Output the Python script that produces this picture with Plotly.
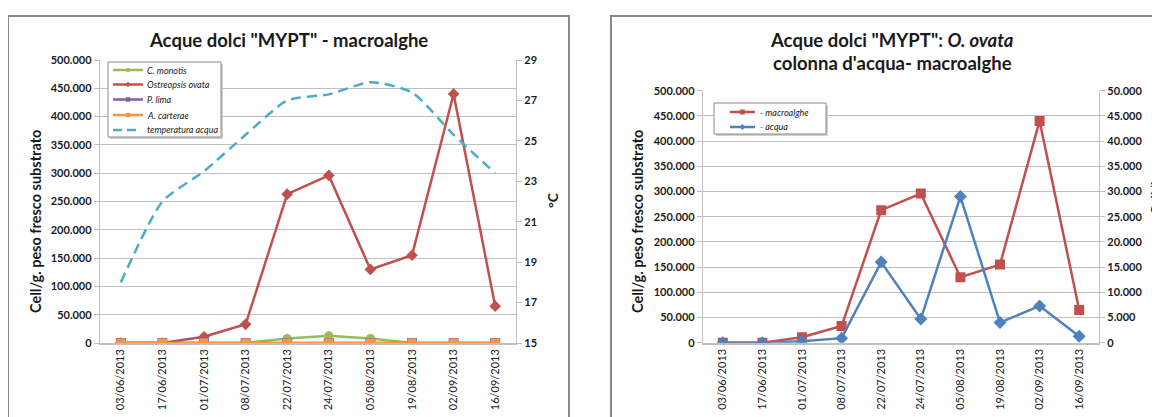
import plotly.graph_objects as go

W, H = 1160, 417
OFF = 8  # page body margin in the browser

# ---------------- data ----------------
dates = ["03/06/2013", "17/06/2013", "01/07/2013", "08/07/2013", "22/07/2013",
         "24/07/2013", "05/08/2013", "19/08/2013", "02/09/2013", "16/09/2013"]
c_monotis = [0, 0, 0, 0, 8000, 13000, 8000, 0, 0, 0]
o_ovata_macro = [0, 0, 11000, 33000, 263000, 296000, 130000, 155000, 440000, 65000]
p_lima = [0, 0, 0, 0, 0, 0, 0, 0, 0, 0]
a_carterae = [0, 0, 0, 0, 0, 0, 0, 0, 0, 0]
temp_acqua = [18.0, 22.0, 23.5, 25.3, 27.0, 27.3, 27.9, 27.4, 25.3, 23.4]
o_ovata_acqua = [0, 0, 300, 900, 16000, 4700, 29000, 4000, 7300, 1300]

left_title = 'Acque dolci "MYPT" - macroalghe'
right_title_1 = 'Acque dolci "MYPT": <i>O. ovata</i>'
right_title_2 = "colonna d'acqua- macroalghe"
y_title = "Cell/g. peso fresco substrato"
temp_title = "°C"
acqua_title = "Cell/l"

left_names = ["C. monotis", "Ostreopsis ovata", "P. lima", "A. carterae", "temperatura acqua"]
right_names = ["- macroalghe", "- acqua"]

RED, BLUE, GREEN, PURPLE, ORANGE, CYAN = "#c0504d", "#4f81bd", "#9bbb59", "#8064a2", "#f79646", "#4bacc6"
FONT = "Lato, 'Open Sans', sans-serif"
GRID = "#c0c0c0"
TXT = "#1a1a1a"

FW, FH = W - OFF, H - OFF


def fx(p):
    return (p - OFF) / FW


def fy(p):
    return 1 - (p - OFF) / FH


fig = go.Figure()

# ---------------- left chart traces ----------------
left_series = [
    (left_names[0], c_monotis, GREEN, "circle", 9),
    (left_names[1], o_ovata_macro, RED, "diamond", 9),
    (left_names[2], p_lima, PURPLE, "square", 10),
    (left_names[3], a_carterae, ORANGE, "square", 9),
]
for name, vals, col, sym, size in left_series:
    fig.add_trace(go.Scatter(x=dates, y=vals, name=name, mode="lines+markers",
                             line=dict(color=col, width=2.5),
                             marker=dict(symbol=sym, size=size, color=col),
                             xaxis="x", yaxis="y", showlegend=False))
fig.add_trace(go.Scatter(x=dates, y=temp_acqua, name=left_names[4], mode="lines",
                         line=dict(color=CYAN, width=2.5, dash="10px,6px", shape="spline", smoothing=0.6),
                         xaxis="x", yaxis="y2", showlegend=False))

# ---------------- right chart traces ----------------
fig.add_trace(go.Scatter(x=dates, y=o_ovata_macro, name=right_names[0], mode="lines+markers",
                         line=dict(color=RED, width=2.5),
                         marker=dict(symbol="square", size=10, color=RED),
                         xaxis="x2", yaxis="y3", showlegend=False))
fig.add_trace(go.Scatter(x=dates, y=o_ovata_acqua, name=right_names[1], mode="lines+markers",
                         line=dict(color=BLUE, width=2.5),
                         marker=dict(symbol="diamond", size=10, color=BLUE),
                         xaxis="x2", yaxis="y4", showlegend=False))

tickfont_b = dict(family=FONT, size=11, color=TXT, weight="bold")
xtickfont = dict(family=FONT, size=11, color=TXT)

common_x = dict(type="category", range=[-0.5, len(dates) - 0.5], tickangle=-90,
                tickfont=xtickfont, showgrid=False, showline=True, linecolor=GRID,
                linewidth=1.5, ticks="", automargin=False, fixedrange=True)
common_y = dict(showgrid=True, gridcolor=GRID, gridwidth=1.4, zeroline=False,
                showline=True, linecolor=GRID, linewidth=1.3, ticks="outside",
                ticklen=5, tickcolor=GRID, tickfont=tickfont_b, automargin=False,
                tickformat=",d")

fig.update_layout(
    width=FW, height=FH, margin=dict(l=0, r=0, t=0, b=0),
    paper_bgcolor="white", plot_bgcolor="white",
    separators=",.", showlegend=False,
    xaxis=dict(domain=[fx(100), fx(516)], anchor="y", **common_x),
    yaxis=dict(domain=[fy(343), fy(60)], anchor="x", range=[0, 500000], dtick=50000, **common_y),
    yaxis2=dict(overlaying="y", side="right", anchor="x", range=[15, 29], tick0=15, dtick=2,
                showgrid=False, zeroline=False, showline=True, linecolor=GRID, linewidth=1.3,
                ticks="outside", ticklen=5, tickcolor=GRID, tickfont=tickfont_b, automargin=False),
    xaxis2=dict(domain=[fx(703), fx(1099)], anchor="y3", **common_x),
    yaxis3=dict(domain=[fy(342.7), fy(90.7)], anchor="x2", range=[0, 500000], dtick=50000, **common_y),
    yaxis4=dict(overlaying="y3", side="right", anchor="x2", range=[0, 50000], tick0=0, dtick=5000,
                showgrid=False, zeroline=False, showline=True, linecolor=GRID, linewidth=1.3,
                ticks="outside", ticklen=5, tickcolor=GRID, tickfont=tickfont_b, automargin=False,
                tickformat=",d"),
)

shapes = []
annotations = []

# chart frames
FRAME = "#878787"
shapes.append(dict(type="rect", xref="paper", yref="paper", x0=fx(8), x1=fx(569), y0=fy(440), y1=fy(16),
                   line=dict(color=FRAME, width=2), layer="below"))
shapes.append(dict(type="rect", xref="paper", yref="paper", x0=fx(611), x1=fx(1190), y0=fy(440), y1=fy(16),
                   line=dict(color=FRAME, width=2), layer="below"))


def ann(text, x, y, size, bold=True, angle=0, xanchor="center", italic=False, color=TXT):
    annotations.append(dict(text=text, x=fx(x), y=fy(y), xref="paper", yref="paper",
                            showarrow=False, textangle=angle, xanchor=xanchor, yanchor="middle",
                            font=dict(family=FONT, size=size, color=color,
                                      weight="bold" if bold else "normal",
                                      style="italic" if italic else "normal")))


# titles
ann(left_title, 288, 40, 18.5)
ann(right_title_1, 892, 40, 18.5)
ann(right_title_2, 892, 63, 18.5)
ann(y_title, 35, 222, 14.5, angle=-90)
ann(temp_title, 553, 200, 14, angle=-90)
ann(y_title, 637, 222, 14.5, angle=-90)
ann(acqua_title, 1155, 198, 14, angle=-90)


def marker_shape(sym, cx, cy, col, r=2.6):
    if sym == "circle":
        return dict(type="circle", xref="paper", yref="paper", x0=fx(cx - r), x1=fx(cx + r),
                    y0=fy(cy + r), y1=fy(cy - r), fillcolor=col, line=dict(color=col, width=0.5))
    if sym == "square":
        return dict(type="rect", xref="paper", yref="paper", x0=fx(cx - r), x1=fx(cx + r),
                    y0=fy(cy + r), y1=fy(cy - r), fillcolor=col, line=dict(color=col, width=0.5))
    r2 = r * 1.2
    path = "M {} {} L {} {} L {} {} L {} {} Z".format(
        fx(cx), fy(cy - r2), fx(cx + r2), fy(cy), fx(cx), fy(cy + r2), fx(cx - r2), fy(cy))
    return dict(type="path", xref="paper", yref="paper", path=path, fillcolor=col,
                line=dict(color=col, width=0.5))


def legend_box(x0, y0, x1, y1):
    shapes.append(dict(type="rect", xref="paper", yref="paper", x0=fx(x0 + 2), x1=fx(x1 + 2),
                       y0=fy(y1 + 2), y1=fy(y0 + 2), fillcolor="#cfcfcf", line=dict(width=0)))
    shapes.append(dict(type="rect", xref="paper", yref="paper", x0=fx(x0), x1=fx(x1),
                       y0=fy(y1), y1=fy(y0), fillcolor="white", line=dict(color="#8a8a8a", width=1)))


# left legend
legend_box(108, 62, 221, 137)
left_leg = [(left_names[0], GREEN, "circle", "solid"),
            (left_names[1], RED, "diamond", "solid"),
            (left_names[2], PURPLE, "square", "solid"),
            (left_names[3], ORANGE, "square", "solid"),
            (left_names[4], CYAN, None, "dash")]
rows = [70, 84.5, 99.5, 115, 130]
for (name, col, sym, dash), ry in zip(left_leg, rows):
    if dash == "dash":
        for a, b in [(113, 122), (127, 136)]:
            shapes.append(dict(type="line", xref="paper", yref="paper", x0=fx(a), x1=fx(b),
                               y0=fy(ry), y1=fy(ry), line=dict(color=col, width=2.5)))
    else:
        shapes.append(dict(type="line", xref="paper", yref="paper", x0=fx(113), x1=fx(143),
                           y0=fy(ry), y1=fy(ry), line=dict(color=col, width=2.5)))
        shapes.append(marker_shape(sym, 128, ry, col, r=2.0))
    ann(name, 145, ry, 9, bold=False, xanchor="left", italic=True)

# right legend
legend_box(714, 103, 826, 134)
right_leg = [(right_names[0], RED, "square"), (right_names[1], BLUE, "diamond")]
for (name, col, sym), ry in zip(right_leg, [112, 127]):
    shapes.append(dict(type="line", xref="paper", yref="paper", x0=fx(730), x1=fx(755),
                       y0=fy(ry), y1=fy(ry), line=dict(color=col, width=2.5)))
    shapes.append(marker_shape(sym, 742.5, ry, col, r=2.2))
    ann(name, 758, ry, 9, bold=False, xanchor="left", italic=True)

fig.update_layout(shapes=shapes, annotations=annotations)
fig.write_html("out.html")
